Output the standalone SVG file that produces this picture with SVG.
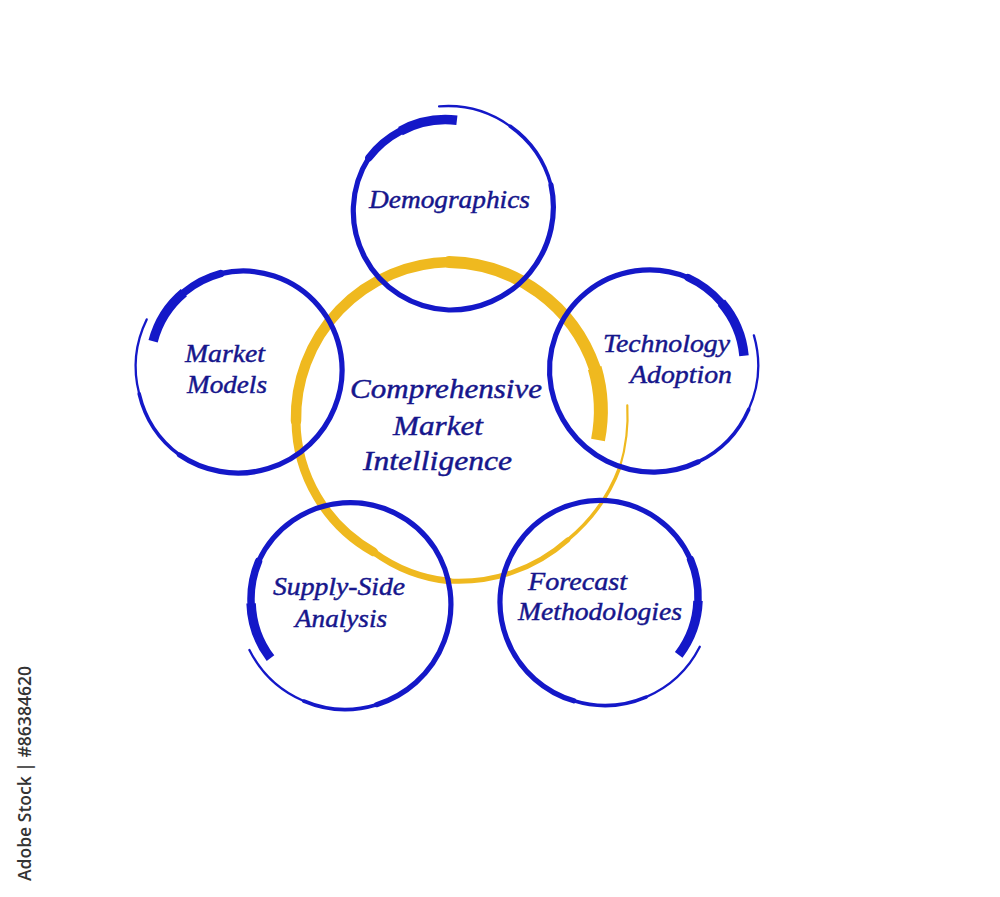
<svg xmlns="http://www.w3.org/2000/svg" width="1000" height="897" viewBox="0 0 1000 897">
<style>
.b{fill:none;stroke:#1418c8;stroke-linecap:round}
.y{fill:none;stroke:#efb91f;stroke-linecap:round}
.st{stroke-linecap:butt}
.w1{stroke-width:9.5}.w2{stroke-width:7.5}.w2b{stroke-width:6.2}.w3{stroke-width:5.2}.w4{stroke-width:3.6}.w5{stroke-width:2.3}
.lbl{font-family:"Liberation Serif","Times New Roman",serif;font-style:italic;font-size:25.5px;fill:#16168c;stroke:#16168c;stroke-width:0.45}
.ctr{font-size:27.5px}
.wm{font-family:"Open Sans","Liberation Sans",sans-serif;font-size:18px;font-weight:600;fill:#333333}
</style>
<rect width="1000" height="897" fill="#ffffff"/>
<g id="connectors"></g>
<g id="node-center">
<path class="y st" style="stroke-width:14" d="M598,440 A152,152 0 0 0 594.7,368"/>
<path class="y" style="stroke-width:12" d="M594.7,368 A157,157 0 0 0 449,262"/>
<path class="y" style="stroke-width:10.5" d="M449,262 A156,156 0 0 0 296,421"/>
<path class="y" style="stroke-width:9" d="M296,421 A152,152 0 0 0 373.5,551.8"/>
<path class="y" style="stroke-width:6.5" d="M373.5,551.8 A156,156 0 0 0 449,581"/>
<path class="y" style="stroke-width:5" d="M449,581 A164,164 0 0 0 567.8,539.8"/>
<path class="y" style="stroke-width:3.5" d="M567.8,539.8 A172,172 0 0 0 620,466.8"/>
<path class="y" style="stroke-width:2.2" d="M620,466.8 A178,178 0 0 0 627.3,405.4"/>
<text class="lbl ctr" x="350" y="398" textLength="192" lengthAdjust="spacingAndGlyphs">Comprehensive</text>
<text class="lbl ctr" x="393" y="435" textLength="90" lengthAdjust="spacingAndGlyphs">Market</text>
<text class="lbl ctr" x="363" y="470" textLength="149" lengthAdjust="spacingAndGlyphs">Intelligence</text>
</g>
<g id="node-demographics">
<path class="b w1 st" d="M456.9,120.3 A95,95 0 0 0 400.4,131.1"/>
<path class="b w2" d="M400.4,131.1 A96,96 0 0 0 368.9,157.7"/>
<path class="b w3" d="M368.9,157.7 A99,99 0 0 0 448.6,310 A103,103 0 0 0 551,185"/>
<path class="b w4" d="M551,185 A105,105 0 0 0 510.3,126.3"/>
<path class="b w5" d="M510.3,126.3 A107,107 0 0 0 439.1,106.4"/>
<text class="lbl" x="369" y="208" textLength="161" lengthAdjust="spacingAndGlyphs">Demographics</text>
</g>
<g id="node-market-models">
<path class="b w1 st" d="M153.1,341.3 A94,94 0 0 1 183.9,292.6"/>
<path class="b w2" d="M183.9,292.6 A96,96 0 0 1 220.5,273.6"/>
<path class="b w3" d="M220.5,273.6 A99,99 0 0 1 334.5,408 A104,104 0 0 1 179.4,454.9"/>
<path class="b w4" d="M179.4,454.9 A106,106 0 0 1 139.2,393.8"/>
<path class="b w5" d="M139.2,393.8 A108,108 0 0 1 146.7,319.4"/>
<text class="lbl" x="185" y="362" textLength="80" lengthAdjust="spacingAndGlyphs">Market</text>
<text class="lbl" x="187" y="393" textLength="80" lengthAdjust="spacingAndGlyphs">Models</text>
</g>
<g id="node-technology-adoption">
<path class="b w1 st" d="M744,355.7 A95,95 0 0 0 721.4,302.7"/>
<path class="b w2" d="M721.4,302.7 A97,97 0 0 0 688.1,277.6"/>
<path class="b w3" d="M688.1,277.6 A100,100 0 0 0 551.3,388.5 A104,104 0 0 0 698.1,461.9"/>
<path class="b w4" d="M698.1,461.9 A106,106 0 0 0 748.7,409.4"/>
<path class="b w5" d="M748.7,409.4 A108,108 0 0 0 753.9,335.4"/>
<text class="lbl" x="603" y="352" textLength="127" lengthAdjust="spacingAndGlyphs">Technology</text>
<text class="lbl" x="630" y="383" textLength="102" lengthAdjust="spacingAndGlyphs">Adoption</text>
</g>
<g id="node-supply-side-analysis">
<path class="b w1 st" d="M270.5,658.2 A96,96 0 0 1 251.1,603.3"/>
<path class="b w2" d="M251.1,603.3 A97,97 0 0 1 258.5,561.5"/>
<path class="b w3" d="M258.5,561.5 A101,101 0 0 1 434.8,548.4 A105,105 0 0 1 376.6,704.7"/>
<path class="b w4" d="M376.6,704.7 A107,107 0 0 1 303.7,701"/>
<path class="b w5" d="M303.7,701 A109,109 0 0 1 249.4,650"/>
<text class="lbl" x="273" y="595" textLength="132" lengthAdjust="spacingAndGlyphs">Supply-Side</text>
<text class="lbl" x="295" y="627" textLength="92" lengthAdjust="spacingAndGlyphs">Analysis</text>
</g>
<g id="node-forecast-methodologies">
<path class="b w1 st" d="M678.7,654.8 A95,95 0 0 0 698,600.8"/>
<path class="b w2" d="M698,600.8 A96,96 0 0 0 690.6,559.6"/>
<path class="b w3" d="M690.6,559.6 A99,99 0 0 0 516.1,546.7 A103,103 0 0 0 573.8,700.8"/>
<path class="b w4" d="M573.8,700.8 A106,106 0 0 0 646,697.1"/>
<path class="b w5" d="M646,697.1 A108,108 0 0 0 699.8,646.8"/>
<text class="lbl" x="528" y="590" textLength="99" lengthAdjust="spacingAndGlyphs">Forecast</text>
<text class="lbl" x="518" y="620" textLength="164" lengthAdjust="spacingAndGlyphs">Methodologies</text>
</g>
<text class="wm" transform="translate(31,881) rotate(-90)" x="0" y="0" textLength="215" lengthAdjust="spacingAndGlyphs">Adobe Stock | #86384620</text>
</svg>
